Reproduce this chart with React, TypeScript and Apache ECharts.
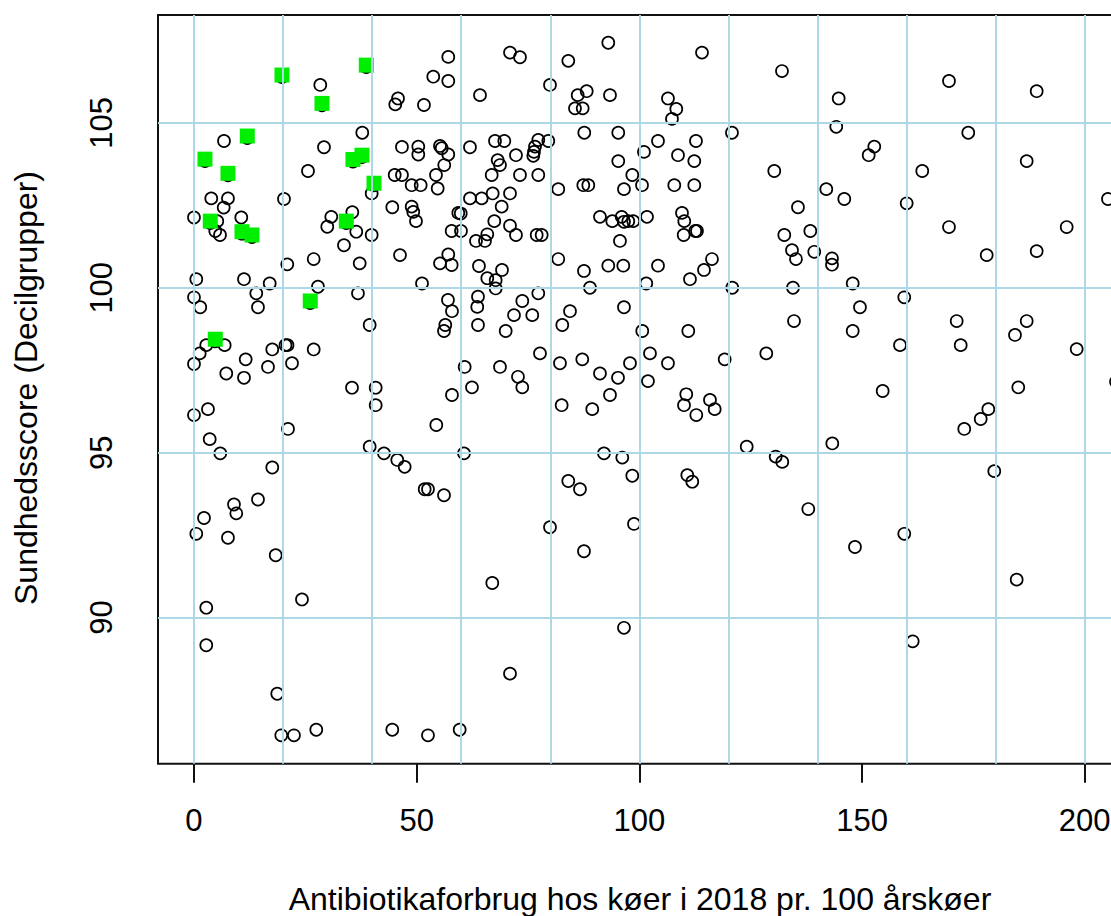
import { useEffect, useRef } from "react";
import * as echarts from "echarts";

// Antibiotic use per 100 cow-years (x) and health score (y) for each herd
const antibioticUse: number[] = [
  28.36, 45.81, 45.2, 6.74, 37.79, 29.19, 46.7, 25.6, 45.07, 46.7,
  3.88, 7.63, 6.67, 20.21, 39.9, 44.53, 0, 10.62, 5.23, 4.78,
  5.84, 30.83, 35.55, 29.93, 36.44, 39.9, 33.68, 26.88, 20.95, 37.21,
  46.26, 57.1, 53.73, 57.1, 51.64, 70.96, 73.2, 64.22, 79.94, 84.05,
  93.03, 86.16, 88.18, 85.55, 87.28, 93.41, 50.37, 50.37, 55.24, 55.62,
  57.1, 56.2, 54.34, 54.72, 48.88, 50.9, 48.88, 49.24, 49.85, 59.35,
  59.9, 57.86, 59.95, 57.1, 55.24, 57.86, 61.97, 67.59, 69.68, 72.3,
  68.19, 68.71, 66.85, 73.2, 77.31, 77.31, 76.57, 76.34, 76.19, 79.56,
  70.96, 67.07, 61.97, 64.6, 69.09, 67.43, 70.96, 72.3, 63.32, 65.34,
  65.86, 76.95, 78.07, 63.99, 69.16, 81.8, 87.42, 88.54, 87.64, 95.27,
  95.27, 98.42, 96.55, 100.6, 101.04, 91.16, 93.93, 96.04, 96.55, 97.52,
  98.64, 101.72, 95.65, 81.8, 87.57, 93.03, 96.4, 114.07, 132.03, 106.43,
  108.3, 107.33, 144.76, 144.22, 120.8, 104.19, 112.72, 108.68, 112.34, 152.76,
  151.5, 130.3, 107.85, 112.34, 141.98, 146.02, 135.62, 109.58, 110.09, 109.96,
  112.56, 112.94, 132.55, 138.39, 134.28, 135.17, 139.28, 143.26, 143.26, 104.19,
  116.31, 114.52, 169.53, 189.22, 173.86, 186.98, 163.53, 160.03, 205.23, 169.53,
  195.96, 178.0, 189.22, 0.52, 11.23, 17.0, 0, 1.41, 13.99, 14.37,
  27.84, 36.82, 51.2, 2.76, 6.89, 1.28, 0, 11.61, 7.25, 11.23,
  17.58, 20.55, 21.0, 16.62, 22.01, 26.88, 39.45, 35.48, 40.8, 40.8,
  3.14, 0, 21.11, 3.53, 5.91, 17.58, 14.37, 8.98, 9.5, 39.45,
  42.66, 45.65, 47.31, 51.8, 52.54, 56.14, 54.41, 57.93, 60.78, 62.42,
  60.63, 57.03, 57.93, 56.43, 56.14, 65.86, 67.74, 67.74, 88.92, 101.56,
  111.37, 120.87, 134.5, 63.77, 63.61, 63.77, 77.31, 73.72, 71.85, 75.96,
  69.99, 84.43, 82.7, 96.55, 100.66, 110.99, 134.73, 77.69, 82.18, 87.19,
  91.16, 95.21, 97.9, 102.39, 106.43, 101.94, 119.16, 128.51, 68.71, 72.75,
  73.72, 93.41, 82.56, 89.43, 110.54, 110.03, 112.79, 115.86, 116.92, 124.11,
  130.62, 132.1, 92.06, 96.17, 98.42, 84.05, 86.67, 110.77, 111.89, 147.91,
  159.49, 149.54, 147.91, 158.53, 171.26, 172.16, 186.98, 184.35, 198.2, 207.03,
  154.64, 185.09, 178.36, 176.65, 172.96, 143.33, 179.7, 137.94, 2.25, 0.52,
  7.63, 18.35, 24.25, 2.76, 2.76, 18.7, 19.6, 22.45, 27.46, 44.53,
  52.54, 59.66, 79.94, 98.8, 87.57, 66.98, 96.55, 70.96, 148.42, 159.49,
  184.73, 161.38,
];

const healthScore: number[] = [
  106.15, 105.74, 105.56, 104.45, 104.7, 104.26, 104.27, 103.54, 103.42, 103.42,
  102.71, 102.71, 102.43, 102.69, 102.86, 102.44, 102.13, 102.13, 102.02, 101.72,
  101.6, 102.15, 102.29, 101.85, 101.7, 101.6, 101.29, 100.87, 100.71, 100.74,
  100.99, 107.0, 106.4, 106.27, 105.54, 107.13, 106.99, 105.84, 106.15, 106.88,
  107.43, 105.84, 105.96, 105.44, 105.44, 105.84, 104.28, 104.04, 104.3, 104.23,
  104.04, 103.72, 103.42, 103.01, 103.11, 103.11, 102.46, 102.3, 102.02, 102.27,
  102.25, 101.72, 101.72, 101.01, 100.74, 100.69, 104.26, 104.45, 104.45, 104.02,
  103.87, 103.72, 103.42, 103.42, 103.42, 104.48, 104.28, 104.12, 104.0, 104.45,
  102.86, 102.86, 102.71, 102.71, 102.46, 102.02, 101.88, 101.6, 101.42, 101.42,
  101.62, 101.6, 101.6, 100.66, 100.54, 102.99, 103.11, 103.11, 104.7, 104.7,
  103.84, 103.42, 102.99, 103.11, 104.12, 102.15, 102.02, 102.15, 102.0, 102.02,
  102.02, 102.15, 101.42, 100.87, 100.51, 100.67, 100.67, 107.13, 106.57, 105.74,
  105.42, 105.12, 105.74, 104.88, 104.7, 104.45, 104.45, 104.02, 103.84, 104.28,
  104.02, 103.54, 103.11, 103.11, 102.99, 102.69, 102.44, 102.27, 102.02, 101.6,
  101.72, 101.72, 101.6, 101.72, 101.14, 100.87, 101.09, 100.89, 100.7, 100.67,
  100.87, 100.54, 106.27, 105.96, 104.7, 103.84, 103.54, 102.56, 102.69, 101.84,
  101.84, 100.99, 101.11, 100.26, 100.26, 100.13, 99.71, 99.41, 99.83, 99.41,
  100.03, 99.83, 100.13, 98.26, 98.26, 98.01, 97.69, 97.83, 97.4, 97.27,
  98.13, 98.26, 98.26, 97.6, 97.71, 98.13, 98.87, 96.97, 96.97, 96.44,
  96.32, 96.14, 95.72, 95.41, 94.98, 94.55, 93.58, 93.43, 93.16, 95.18,
  94.98, 94.78, 94.57, 93.89, 93.89, 93.71, 95.84, 96.75, 97.6, 96.98,
  94.98, 99.63, 99.29, 98.87, 98.69, 100.29, 100.23, 99.98, 100.0, 100.13,
  100.26, 100.0, 100.0, 99.73, 99.42, 98.87, 99.83, 99.6, 99.17, 99.17,
  98.69, 99.29, 98.87, 99.41, 98.69, 98.69, 98.99, 98.01, 97.71, 97.83,
  97.4, 97.27, 97.71, 98.01, 97.71, 97.17, 97.83, 98.01, 97.6, 97.3,
  96.98, 96.75, 96.44, 96.32, 96.77, 96.44, 96.14, 96.6, 96.32, 95.18,
  94.88, 94.72, 94.98, 94.85, 94.3, 94.14, 93.89, 94.32, 94.12, 100.13,
  99.71, 99.41, 98.69, 98.26, 98.99, 98.26, 98.99, 98.57, 98.14, 97.15,
  96.87, 96.98, 96.32, 96.02, 95.72, 95.28, 94.44, 93.29, 93.02, 92.54,
  92.42, 91.89, 90.55, 90.3, 89.16, 87.69, 86.43, 86.43, 86.6, 86.6,
  86.43, 86.6, 92.74, 92.84, 92.01, 91.05, 89.69, 88.3, 92.14, 92.54,
  91.15, 89.28,
];

// Highlighted herds (green squares)
const highlightUse: number[] = [
  19.76, 28.74, 38.69, 11.97, 2.47, 7.63, 35.7, 37.72, 40.42, 3.66,
  10.78, 13.02, 34.2, 26.11, 4.78,
];
const highlightScore: number[] = [
  106.45, 105.59, 106.75, 104.6, 103.9, 103.47, 103.89, 104.02, 103.17, 102.02,
  101.7, 101.6, 102.02, 99.6, 98.44,
];

const xTickValues: number[] = [0, 50, 100, 150, 200];
const yTickValues: number[] = [90, 95, 100, 105];
const xGridValues: number[] = [0, 20, 40, 60, 80, 100, 120, 140, 160, 180, 200];
const yGridValues: number[] = [90, 95, 100, 105];

const xTitle = "Antibiotikaforbrug hos køer i 2018 pr. 100 årskøer";
const yTitle = "Sundhedsscore (Decilgrupper)";

const FONT = "'Liberation Sans', Arial, Helvetica, sans-serif";

export default function App() {
  const ref = useRef<HTMLDivElement>(null);

  useEffect(() => {
    if (!ref.current) return;
    const chart = echarts.init(ref.current, null, { renderer: "svg" });

    const points = antibioticUse.map((x, i) => [x, healthScore[i]]);
    const highlight = highlightUse.map((x, i) => [x, highlightScore[i]]);

    const xMin = -8.08;
    const xMax = 215;
    const pxPerUnit = 4.4535;

    const circleStyle = {
      color: "rgba(0,0,0,0)",
      borderColor: "#000",
      borderWidth: 1.7,
      opacity: 1,
    };

    chart.setOption({
      animation: false,
      backgroundColor: "#fff",
      grid: {
        left: 158,
        top: 15,
        width: (xMax - xMin) * pxPerUnit,
        height: 748.7,
        show: true,
        borderColor: "#111",
        borderWidth: 2,
        backgroundColor: "rgba(0,0,0,0)",
        containLabel: false,
        outerBoundsMode: "none",
      },
      xAxis: {
        type: "value",
        min: xMin,
        max: xMax,
        axisLine: { show: false },
        splitLine: { show: false },
        axisTick: {
          show: true,
          length: 19,
          customValues: xTickValues,
          lineStyle: { color: "#111", width: 2 },
        },
        axisLabel: {
          customValues: xTickValues,
          margin: 41,
          fontSize: 31,
          color: "#000",
          fontFamily: FONT,
          showMinLabel: true,
          showMaxLabel: true,
        },
      },
      yAxis: {
        type: "value",
        min: 85.57,
        max: 108.27,
        axisLine: { show: false },
        splitLine: { show: false },
        axisTick: {
          show: true,
          length: 19,
          customValues: yTickValues,
          lineStyle: { color: "#111", width: 2 },
        },
        axisLabel: {
          customValues: yTickValues,
          rotate: 90,
          margin: 41,
          fontSize: 31,
          color: "#000",
          fontFamily: FONT,
        },
      },
      graphic: [
        {
          type: "text",
          x: 640,
          y: 899,
          style: {
            text: xTitle,
            fontSize: 32,
            fontFamily: FONT,
            fill: "#000",
            align: "center",
            verticalAlign: "middle",
          },
        },
        {
          type: "text",
          x: 25.6,
          y: 388,
          rotation: Math.PI / 2,
          style: {
            text: yTitle,
            fontSize: 32,
            fontFamily: FONT,
            fill: "#000",
            align: "center",
            verticalAlign: "middle",
          },
        },
      ],
      series: [
        {
          type: "scatter",
          data: [],
          z: 1,
          silent: true,
          markLine: {
            silent: true,
            animation: false,
            symbol: ["none", "none"],
            label: { show: false },
            lineStyle: { color: "#add8e6", width: 2, type: "solid", opacity: 1 },
            emphasis: { disabled: true },
            data: [
              ...xGridValues.map((v) => ({ xAxis: v })),
              ...yGridValues.map((v) => ({ yAxis: v })),
            ],
          },
        },
        {
          type: "scatter",
          data: points,
          symbol: "circle",
          symbolSize: 12,
          itemStyle: circleStyle,
          z: 3,
          silent: true,
        },
        {
          type: "scatter",
          data: highlight,
          symbol: "circle",
          symbolSize: 12,
          symbolOffset: [0, 2],
          itemStyle: circleStyle,
          z: 3,
          silent: true,
        },
        {
          type: "scatter",
          data: highlight,
          symbol: "rect",
          symbolSize: 15,
          itemStyle: { color: "#00ee00", borderWidth: 0, opacity: 1 },
          z: 4,
          silent: true,
        },
      ],
    });

    return () => chart.dispose();
  }, []);

  return (
    <div
      style={{
        position: "absolute",
        left: 0,
        top: 0,
        width: 1111,
        height: 916,
        overflow: "hidden",
        background: "#fff",
      }}
    >
      <div ref={ref} style={{ width: 1200, height: 916 }} />
    </div>
  );
}
